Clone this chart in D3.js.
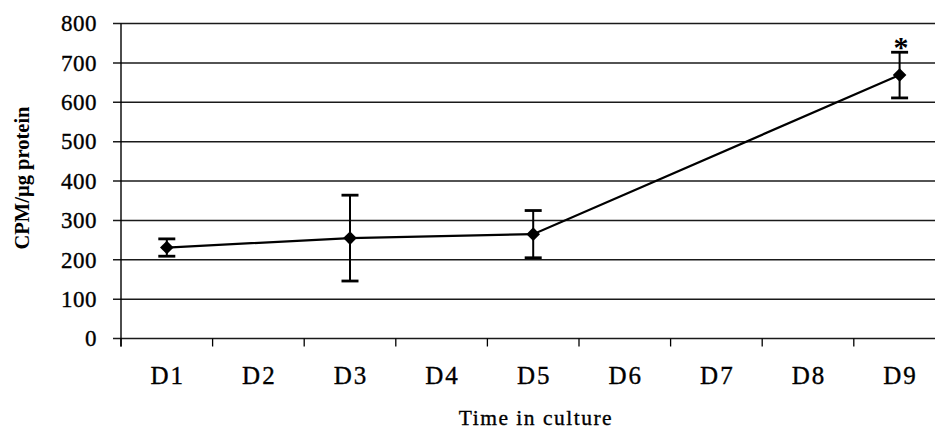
<!DOCTYPE html>
<html>
<head>
<meta charset="utf-8">
<script src="https://cdn.jsdelivr.net/npm/d3@7"></script>
<style>
  html, body { margin: 0; padding: 0; background: #fff; }
  svg { display: block; }
  text { font-family: "Liberation Serif", "Times New Roman", serif; fill: #000; }
  .heavy { stroke: #000; stroke-width: 0.35px; }
</style>
</head>
<body>
<svg id="chart" width="935" height="431"></svg>
<script>
// ---- data ----
const categories = ["D1", "D2", "D3", "D4", "D5", "D6", "D7", "D8", "D9"];
const sampleDays = ["D1", "D3", "D5", "D9"];
const meanValues = [231, 255, 265, 669];
const errorValues = [22, 109, 60, 58];
const significant = [false, false, false, true];
const yTicks = [0, 100, 200, 300, 400, 500, 600, 700, 800];
const yLabel = "CPM/µg protein";
const xLabel = "Time in culture";

// ---- layout ----
const svg = d3.select("#chart");
const plotLeft = 121, plotRight = 945.4, plotTop = 23.5, plotBottom = 338.5;

const x = d3.scaleBand().domain(categories).range([plotLeft, plotRight]).padding(0);
const y = d3.scaleLinear().domain([0, 800]).range([plotBottom, plotTop]);
const cx = d => x(d) + x.bandwidth() / 2;

const points = sampleDays.map((d, i) => ({
  day: d, mean: meanValues[i], err: errorValues[i], sig: significant[i]
}));

// gridlines (extend left as ticks)
svg.append("g")
  .selectAll("line")
  .data(yTicks)
  .join("line")
  .attr("x1", plotLeft - 8)
  .attr("x2", plotRight)
  .attr("y1", d => y(d))
  .attr("y2", d => y(d))
  .attr("stroke", "#1a1a1a")
  .attr("stroke-width", 1.5);

// y axis line
svg.append("line")
  .attr("x1", plotLeft).attr("x2", plotLeft)
  .attr("y1", y(800)).attr("y2", plotBottom + 8)
  .attr("stroke", "#000").attr("stroke-width", 1.4);

// y tick labels
svg.append("g")
  .selectAll("text")
  .data(yTicks)
  .join("text")
  .attr("class", "heavy")
  .attr("x", 97)
  .attr("y", d => y(d))
  .attr("dy", "0.34em")
  .attr("text-anchor", "end")
  .attr("font-size", 23)
  .attr("letter-spacing", 0.5)
  .text(d => d);

// x axis ticks (category boundaries)
const boundaries = categories.map(c => x(c));
svg.append("g")
  .selectAll("line")
  .data(boundaries)
  .join("line")
  .attr("x1", d => d).attr("x2", d => d)
  .attr("y1", plotBottom).attr("y2", plotBottom + 8)
  .attr("stroke", "#000").attr("stroke-width", 1.3);

// x labels
svg.append("g")
  .selectAll("text")
  .data(categories)
  .join("text")
  .attr("class", "heavy")
  .attr("x", d => cx(d) + 1)
  .attr("y", 384)
  .attr("text-anchor", "middle")
  .attr("font-size", 25)
  .attr("letter-spacing", 2)
  .text(d => d);

// axis titles
svg.append("text")
  .attr("transform", `translate(29,178) rotate(-90)`)
  .attr("text-anchor", "middle")
  .attr("font-size", 20.5)
  .attr("font-weight", "bold")
  .text(yLabel);

svg.append("text")
  .attr("class", "heavy")
  .attr("x", 536)
  .attr("y", 425)
  .attr("text-anchor", "middle")
  .attr("font-size", 21.5)
  .attr("letter-spacing", 1.5)
  .text(xLabel);

// line
const line = d3.line().x(d => cx(d.day)).y(d => y(d.mean));
svg.append("path")
  .datum(points)
  .attr("d", line)
  .attr("fill", "none")
  .attr("stroke", "#000")
  .attr("stroke-width", 2.2);

// error bars
const eb = svg.append("g").attr("stroke", "#000");
eb.selectAll("line.v")
  .data(points).join("line").attr("class", "v")
  .attr("x1", d => cx(d.day)).attr("x2", d => cx(d.day))
  .attr("y1", d => y(d.mean + d.err)).attr("y2", d => y(d.mean - d.err))
  .attr("stroke-width", 2);
eb.selectAll("line.top")
  .data(points).join("line").attr("class", "top")
  .attr("x1", d => cx(d.day) - 8.5).attr("x2", d => cx(d.day) + 8.5)
  .attr("y1", d => y(d.mean + d.err)).attr("y2", d => y(d.mean + d.err))
  .attr("stroke-width", 2.8);
eb.selectAll("line.bot")
  .data(points).join("line").attr("class", "bot")
  .attr("x1", d => cx(d.day) - 8.5).attr("x2", d => cx(d.day) + 8.5)
  .attr("y1", d => y(d.mean - d.err)).attr("y2", d => y(d.mean - d.err))
  .attr("stroke-width", 2.8);

// diamond markers
svg.append("g")
  .selectAll("path")
  .data(points)
  .join("path")
  .attr("d", d3.symbol(d3.symbolSquare, 92))
  .attr("transform", d => `translate(${cx(d.day)},${y(d.mean)}) rotate(45)`)
  .attr("fill", "#000");

// significance asterisk
svg.append("g")
  .selectAll("text")
  .data(points.filter(d => d.sig))
  .join("text")
  .attr("x", d => cx(d.day) + 1.5)
  .attr("y", d => y(d.mean + d.err) + 5)
  .attr("text-anchor", "middle")
  .attr("font-size", 30)
  .attr("font-weight", "bold")
  .text("*");
</script>
</body>
</html>
